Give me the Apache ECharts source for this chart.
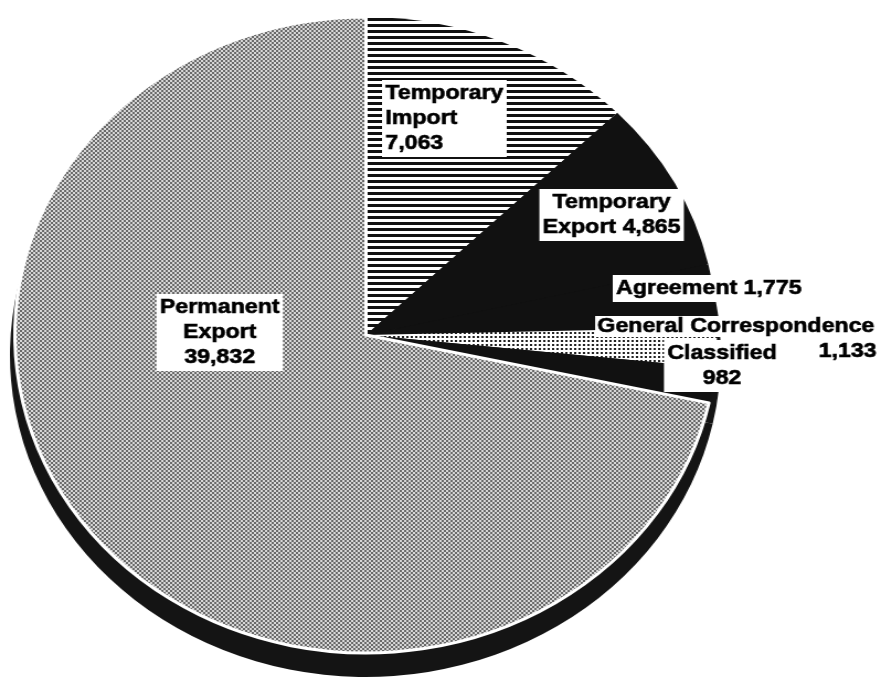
<!DOCTYPE html>
<html><head><meta charset="utf-8">
<script src="https://cdn.jsdelivr.net/npm/echarts@6/dist/echarts.min.js"></script>
<style>
html,body{margin:0;padding:0;background:#fff;overflow:hidden}
#wrap{width:878px;height:684px;overflow:hidden}
#c{width:795px;height:684px;transform:scaleX(1.104);transform-origin:0 0}
</style>
</head><body><div id="wrap"><div id="c"></div></div>
<script>
// ---- data ----
const categories = ['Temporary Import','Temporary Export','Agreement','General Correspondence','Classified','Permanent Export'];
const values = [7063, 4865, 1775, 1133, 982, 39832];
const labelTemplates = ['Temporary\nImport\n%v','Temporary\nExport %v','Agreement %v','{a|General Correspondence}\n{b|%v}','Classified\n%v','Permanent\nExport\n%v'];

// ---- styles ----
function pat(w,h,draw){const c=document.createElement('canvas');c.width=w;c.height=h;const g=c.getContext('2d');draw(g);return {image:c,repeat:'repeat'};}
const hatch = pat(4,6,g=>{g.fillStyle='#fff';g.fillRect(0,0,4,6);g.fillStyle='#111';g.fillRect(0,0,4,3);});
const dots = pat(4,4,g=>{g.fillStyle='#fff';g.fillRect(0,0,4,4);g.fillStyle='#222';g.fillRect(0,0,2,2);});
const stipple = pat(4,4,g=>{g.fillStyle='#d8d8d8';g.fillRect(0,0,4,4);g.fillStyle='#6a6a6a';g.fillRect(0,0,2,2);g.fillRect(2,2,2,2);});
const fills = [hatch,'#111','#111',dots,'#111',stipple];
const layout = [
  {x:346,y:80,align:'left'},
  {x:554,y:189,align:'center'},
  {x:555,y:275,align:'left'},
  {x:794,y:314,align:'right'},
  {x:654,y:340,align:'center'},
  {x:199,y:294,align:'center'}
];
const font = {fontFamily:'Liberation Sans, Arial, sans-serif',fontWeight:'bold',fontSize:21,lineHeight:25,color:'#000',textBorderColor:'#000',textBorderWidth:0.6};

const mainData = categories.map((n,i)=>{
  const d = {name:n, value:values[i], itemStyle:{color:fills[i]}};
  if (i===5) { d.itemStyle.borderColor='#fff'; d.itemStyle.borderWidth=3; }
  const lbl = Object.assign({show:true, formatter:labelTemplates[i].replace('%v', values[i].toLocaleString('en-US'))}, font);
  if (i===3) {
    lbl.rich = {a:Object.assign({backgroundColor:'#fff',padding:[0,2]},font), b:Object.assign({},font)};
  } else {
    lbl.backgroundColor='#fff'; lbl.padding=[1,3];
  }
  d.label = lbl;
  return d;
});

const chart = echarts.init(document.getElementById('c'), null, {renderer:'canvas'});
chart.setOption({
  animation:false,
  backgroundColor:'#fff',
  series:[
    {type:'pie', silent:true, center:[331,355], radius:322, startAngle:90, clockwise:true,
     label:{show:false}, labelLine:{show:false},
     data:categories.map((n,i)=>({name:n,value:values[i],itemStyle:{color:'#141414'}}))},
    {type:'pie', center:[331.5,335], radius:318, startAngle:90, clockwise:true,
     label:{position:'inside'}, labelLine:{show:false},
     labelLayout:(p)=>{const l=layout[p.dataIndex];return {x:l.x,y:l.y,align:l.align,verticalAlign:'top'};},
     data:mainData}
  ]
});
</script>
</body></html>
